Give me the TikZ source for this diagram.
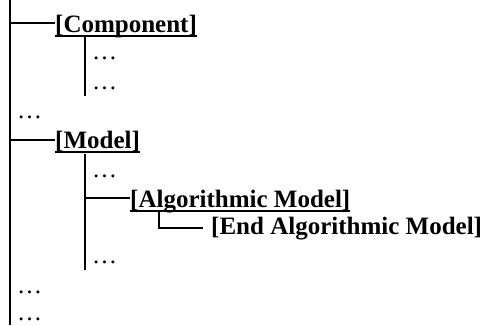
\documentclass[tikz,border=0pt]{standalone}
\usepackage{fontspec}
\setmainfont{Liberation Serif}
\begin{document}
\begin{tikzpicture}[x=1pt,y=1pt,
  lbl/.style={anchor=base west,inner sep=0pt,font=\fontsize{25}{30}\selectfont\bfseries},
  dotsn/.style={anchor=base west,inner sep=0pt,font=\fontsize{25}{30}\selectfont},
  trunk/.style={line width=2pt},
  conn/.style={line width=1.5pt},
  uline/.style={line width=2pt}]
\useasboundingbox (0,0) rectangle (487,-325);
% trunk
\coordinate (t0) at (10,0);
\coordinate (t1) at (10,-325);
\draw[trunk] (t0) -- (t1);
% Component
\node[lbl] (comp) at (55,-32) {[Component]};
\coordinate (cA) at (10,-23);
\draw[conn] (cA) -- ([yshift=9pt]comp.base west);
\draw[uline] ([yshift=-3.5pt]comp.base west) -- ([yshift=-3.5pt]comp.base east);
\coordinate (s1a) at (85,-37);
\coordinate (s1b) at (85,-96);
\draw[trunk] (s1a) -- (s1b);
\node[dotsn] (d1) at (92,-59) {\ldots};
\node[dotsn] (d2) at (92,-89) {\ldots};
\node[dotsn] (d3) at (17,-118) {\ldots};
% Model
\node[lbl] (model) at (55,-148) {[Model]};
\coordinate (cB) at (10,-140);
\draw[conn] (cB) -- ([yshift=8pt]model.base west);
\draw[uline] ([yshift=-3.5pt]model.base west) -- ([yshift=-3.5pt]model.base east);
\coordinate (s2a) at (85,-154);
\coordinate (s2b) at (85,-270);
\draw[trunk] (s2a) -- (s2b);
\node[dotsn] (d4) at (92,-177) {\ldots};
% Algorithmic Model
\node[lbl] (alg) at (130,-207) {[Algorithmic Model]};
\coordinate (cC) at (85,-198);
\draw[conn] (cC) -- ([yshift=9pt]alg.base west);
\draw[uline] ([yshift=-3.5pt]alg.base west) -- ([yshift=-3.5pt]alg.base east);
% End Algorithmic Model
\node[lbl] (endalg) at (211,-234) {[End Algorithmic Model]};
\coordinate (eA) at (159,-211);
\coordinate (eB) at (203,-228);
\draw[conn] (eA) |- (eB);
\node[dotsn] (d5) at (92,-263) {\ldots};
\node[dotsn] (d6) at (17,-293) {\ldots};
\node[dotsn] (d7) at (17,-320) {\ldots};
\end{tikzpicture}
\end{document}
